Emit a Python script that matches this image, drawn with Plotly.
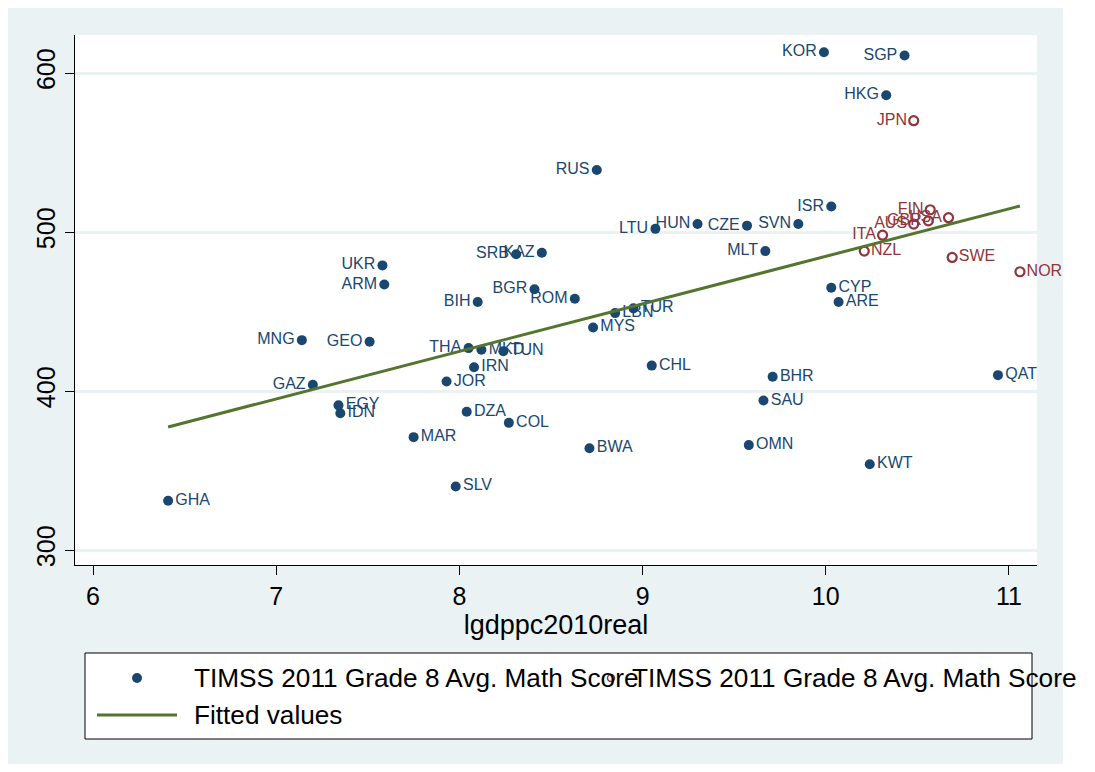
import plotly.graph_objects as go

# ---------------- data ----------------
countries_a = ["KOR", "SGP", "HKG", "RUS", "ISR", "LTU", "HUN", "CZE", "SVN", "MLT",
               "UKR", "ARM", "SRB", "KAZ", "BGR", "BIH", "ROM", "LBN", "TUR", "MYS",
               "MNG", "GEO", "THA", "MKD", "TUN", "IRN", "JOR", "CHL", "BHR", "QAT",
               "SAU", "GAZ", "EGY", "IDN", "DZA", "COL", "MAR", "BWA", "OMN", "KWT",
               "SLV", "GHA", "CYP", "ARE"]
lgdp_a = [9.99, 10.43, 10.33, 8.75, 10.03, 9.07, 9.30, 9.57, 9.85, 9.67,
          7.58, 7.59, 8.31, 8.45, 8.41, 8.10, 8.63, 8.85, 8.95, 8.73,
          7.14, 7.51, 8.05, 8.12, 8.24, 8.08, 7.93, 9.05, 9.71, 10.94,
          9.66, 7.20, 7.34, 7.35, 8.04, 8.27, 7.75, 8.71, 9.58, 10.24,
          7.98, 6.41, 10.03, 10.07]
math_a = [613, 611, 586, 539, 516, 502, 505, 504, 505, 488,
          479, 467, 486, 487, 464, 456, 458, 449, 452, 440,
          432, 431, 427, 426, 425, 415, 406, 416, 409, 410,
          394, 404, 391, 386, 387, 380, 371, 364, 366, 354,
          340, 331, 465, 456]

countries_b = ["JPN", "FIN", "USA", "GBR", "AUS", "ITA", "NZL", "SWE", "NOR"]
lgdp_b = [10.48, 10.57, 10.67, 10.56, 10.48, 10.31, 10.21, 10.69, 11.06]
math_b = [570, 514, 509, 507, 505, 498, 488, 484, 475]

fit_x = [6.41, 11.06]
fit_y = [377.4, 516.4]

x_ticks = [6, 7, 8, 9, 10, 11]
y_ticks = [300, 400, 500, 600]

x_title = "lgdppc2010real"
legend_labels = ["TIMSS 2011 Grade 8 Avg. Math Score",
                 "TIMSS 2011 Grade 8 Avg. Math Score",
                 "Fitted values"]

# labels drawn to the left of their marker (Stata mlabvposition 9)
left_labels = {"KOR", "SGP", "HKG", "RUS", "ISR", "LTU", "HUN", "CZE", "SVN", "MLT",
               "UKR", "ARM", "SRB", "KAZ", "BGR", "BIH", "ROM", "MNG", "GEO", "THA",
               "GAZ", "JPN", "FIN", "USA", "GBR", "AUS", "ITA"}

# ---------------- styles ----------------
NAVY = "#1a476f"
MAROON = "#90353b"
GREEN = "#55752f"
BG = "#eaf2f3"
FONT = "Liberation Sans, Arial, sans-serif"
OFF = 8  # page body margin
W, H = 1095 - 2 * OFF, 772 - 2 * OFF
L, R, T, B = 75 - OFF, 1037 - OFF, 35 - OFF, 565 - OFF


def pos(names):
    return ["middle left" if n in left_labels else "middle right" for n in names]


fig = go.Figure()
fig.add_trace(go.Scatter(
    x=lgdp_a, y=math_a, mode="markers+text", text=countries_a,
    textposition=pos(countries_a), cliponaxis=False,
    textfont=dict(family=FONT, size=16, color=NAVY),
    marker=dict(color=NAVY, size=10, line=dict(width=0)),
    showlegend=False, hoverinfo="text+x+y"))
fig.add_trace(go.Scatter(
    x=lgdp_b, y=math_b, mode="markers+text", text=countries_b,
    textposition=pos(countries_b), cliponaxis=False,
    textfont=dict(family=FONT, size=16, color=MAROON),
    marker=dict(symbol="circle-open", color=MAROON, size=9, line=dict(width=2.2)),
    showlegend=False, hoverinfo="text+x+y"))
fig.add_trace(go.Scatter(
    x=fit_x, y=fit_y, mode="lines",
    line=dict(color=GREEN, width=3), showlegend=False, hoverinfo="skip"))


def px_x(px):
    return (px - OFF - L) / (R - L)


def px_y(py):
    return (B - (py - OFF)) / (B - T)


shapes = []
# white strip right of the grey outer region
shapes.append(dict(type="rect", xref="paper", yref="paper",
                   x0=px_x(1063), x1=px_x(1100), y0=px_y(780), y1=px_y(0),
                   fillcolor="white", line=dict(width=0), layer="below"))
# legend box
shapes.append(dict(type="rect", xref="paper", yref="paper",
                   x0=px_x(85), x1=px_x(1032), y0=px_y(739), y1=px_y(653),
                   fillcolor="white", line=dict(color="black", width=1)))
# legend symbols
shapes.append(dict(type="circle", xref="paper", yref="paper",
                   xsizemode="pixel", ysizemode="pixel",
                   xanchor=px_x(137), yanchor=px_y(678),
                   x0=-5, x1=5, y0=-5, y1=5,
                   fillcolor=NAVY, line=dict(width=0)))
shapes.append(dict(type="circle", xref="paper", yref="paper",
                   xsizemode="pixel", ysizemode="pixel",
                   xanchor=px_x(611), yanchor=px_y(678),
                   x0=-3.5, x1=3.5, y0=-3.5, y1=3.5,
                   fillcolor="rgba(0,0,0,0)", line=dict(color=MAROON, width=1.5)))
shapes.append(dict(type="line", xref="paper", yref="paper",
                   x0=px_x(97), x1=px_x(177), y0=px_y(715), y1=px_y(715),
                   line=dict(color=GREEN, width=3)))

annotations = []
for txt, xx, yy in [(legend_labels[0], 192, 678), (legend_labels[1], 630, 678),
                    (legend_labels[2], 192, 715)]:
    annotations.append(dict(text=txt, xref="paper", yref="paper",
                            x=px_x(xx), y=px_y(yy), xanchor="left", yanchor="middle",
                            showarrow=False, font=dict(family=FONT, size=26.2, color="black")))

fig.update_layout(
    width=W, height=H,
    margin=dict(l=L, r=W - R, t=T, b=H - B, pad=0),
    paper_bgcolor=BG, plot_bgcolor="white",
    font=dict(family=FONT, size=25, color="black"),
    shapes=shapes, annotations=annotations,
    xaxis=dict(range=[5.9017, 11.153], tickvals=x_ticks, showgrid=False,
               zeroline=False, showline=True, linecolor="black", linewidth=1,
               ticks="outside", ticklen=9, tickcolor="black",
               tickfont=dict(size=25),
               title=dict(text=x_title, font=dict(size=27), standoff=4)),
    yaxis=dict(range=[290.6, 623.9], tickvals=y_ticks, showgrid=True,
               gridcolor=BG, gridwidth=2.5, zeroline=False, showline=True,
               linecolor="black", linewidth=1, ticks="outside", ticklen=9,
               tickcolor="black", tickangle=-90, tickfont=dict(size=25)),
)

fig.write_html("out.html")
